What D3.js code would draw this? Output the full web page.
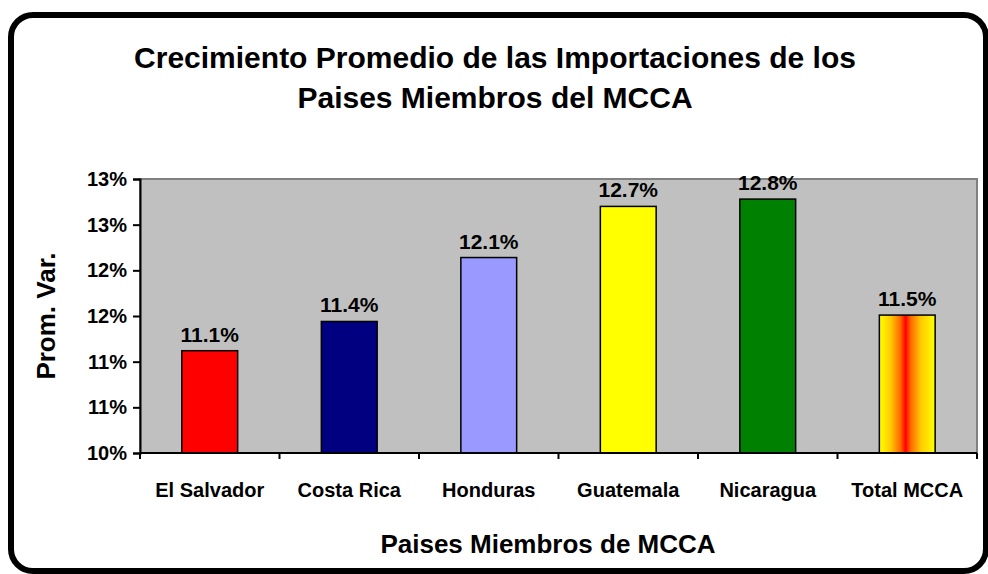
<!DOCTYPE html>
<html>
<head>
<meta charset="utf-8">
<script src="https://cdn.jsdelivr.net/npm/d3@7"></script>
<style>
  body { margin: 0; background: #fff; }
  text { font-family: "Liberation Sans", Arial, sans-serif; font-weight: bold; fill: #000; }
</style>
</head>
<body>
<div id="chart"></div>
<script>
const categories = ["El Salvador", "Costa Rica", "Honduras", "Guatemala", "Nicaragua", "Total MCCA"];
const values = [0.1112, 0.1144, 0.1214, 0.1270, 0.1278, 0.1151];
const barColors = ["#ff0000", "#000080", "#9999ff", "#ffff00", "#008000", "url(#totalGrad)"];
const yTicks = [0.10, 0.105, 0.11, 0.115, 0.12, 0.125, 0.13];
const titleLines = ["Crecimiento Promedio de las Importaciones de los", "Paises Miembros del MCCA"];

const width = 988, height = 574;
const margin = {top: 179, right: 11, bottom: 121, left: 140};

const svg = d3.select("#chart").append("svg")
    .attr("width", width)
    .attr("height", height)
    .attr("viewBox", [0, 0, width, height]);

// gradient for the total bar
const grad = svg.append("defs").append("linearGradient")
    .attr("id", "totalGrad")
    .attr("x1", "0%").attr("x2", "100%").attr("y1", "0%").attr("y2", "0%");
[[0, "#ffff00"], [0.2, "#ffcc00"], [0.38, "#ff6600"], [0.47, "#ff0000"], [0.56, "#ff6600"], [0.75, "#ffcc00"], [1, "#ffff00"]]
    .forEach(s => grad.append("stop").attr("offset", s[0]).attr("stop-color", s[1]));

// outer rounded frame
svg.append("rect")
    .attr("x", 11).attr("y", 15)
    .attr("width", 975).attr("height", 556)
    .attr("rx", 22).attr("ry", 22)
    .attr("fill", "#fff")
    .attr("stroke", "#000")
    .attr("stroke-width", 6);

svg.append("g").selectAll("text")
    .data(titleLines)
    .join("text")
    .attr("x", 495)
    .attr("y", (d, i) => 68 + i * 40)
    .attr("text-anchor", "middle")
    .style("font-size", "30px")
    .text(d => d);

const x = d3.scaleBand()
    .domain(categories)
    .range([margin.left, width - margin.right])
    .paddingInner(0.6)
    .paddingOuter(0.3);

const xTicks = d3.scaleBand()
    .domain(categories)
    .range([margin.left, width - margin.right]);

const y = d3.scaleLinear()
    .domain([0.10, 0.13])
    .range([height - margin.bottom, margin.top]);

// plot area
svg.append("rect")
    .attr("x", margin.left)
    .attr("y", margin.top)
    .attr("width", width - margin.right - margin.left)
    .attr("height", height - margin.bottom - margin.top)
    .attr("fill", "#c0c0c0")
    .attr("stroke", "#808080")
    .attr("stroke-width", 2);

svg.append("g")
    .selectAll("rect")
    .data(values)
    .join("rect")
    .attr("x", (d, i) => x(categories[i]))
    .attr("y", d => y(d))
    .attr("width", x.bandwidth())
    .attr("height", d => y(0.10) - y(d))
    .attr("fill", (d, i) => barColors[i])
    .attr("stroke", "#000")
    .attr("stroke-width", 1.5);

svg.append("g")
    .selectAll("text")
    .data(values)
    .join("text")
    .attr("x", (d, i) => x(categories[i]) + x.bandwidth() / 2)
    .attr("y", d => y(d) - 9)
    .attr("text-anchor", "middle")
    .style("font-size", "21px")
    .text(d => d3.format(".1%")(d));

// y axis
svg.append("g")
    .attr("transform", `translate(${margin.left},0)`)
    .call(d3.axisLeft(y).tickValues(yTicks).tickFormat(d3.format(".0%")).tickSize(7).tickPadding(6))
    .call(g => g.selectAll("line, path").attr("stroke", "#000").attr("stroke-width", 2))
    .call(g => g.selectAll("text").style("font-size", "20px").attr("font-family", null));

// x axis with ticks between categories
const xAxisG = svg.append("g")
    .attr("transform", `translate(0,${height - margin.bottom})`);
xAxisG.append("line")
    .attr("x1", margin.left).attr("x2", width - margin.right)
    .attr("stroke", "#000").attr("stroke-width", 2);
xAxisG.selectAll(".tk")
    .data(categories.concat([null]))
    .join("line")
    .attr("class", "tk")
    .attr("x1", (d, i) => d ? xTicks(d) : width - margin.right)
    .attr("x2", (d, i) => d ? xTicks(d) : width - margin.right)
    .attr("y1", 0).attr("y2", 6)
    .attr("stroke", "#000").attr("stroke-width", 2);
xAxisG.selectAll(".lbl")
    .data(categories)
    .join("text")
    .attr("class", "lbl")
    .attr("x", d => xTicks(d) + xTicks.bandwidth() / 2)
    .attr("y", 44)
    .attr("text-anchor", "middle")
    .style("font-size", "20px")
    .text(d => d);

svg.append("text")
    .attr("x", 548)
    .attr("y", 553)
    .attr("text-anchor", "middle")
    .style("font-size", "26px")
    .text("Paises Miembros de MCCA");

svg.append("text")
    .attr("transform", "translate(55,316) rotate(-90)")
    .attr("text-anchor", "middle")
    .style("font-size", "26px")
    .text("Prom. Var.");
</script>
</body>
</html>
